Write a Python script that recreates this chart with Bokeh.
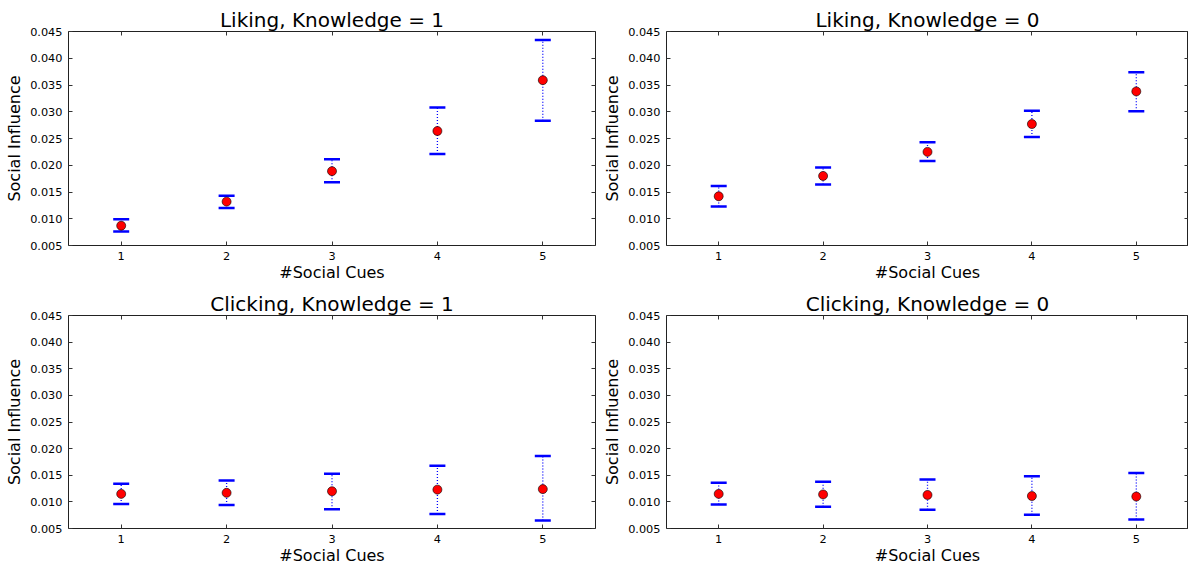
from bokeh.plotting import figure
from bokeh.models import ColumnDataSource, Whisker, TeeHead, FixedTicker, NumeralTickFormatter, LinearAxis, Range1d
from bokeh.layouts import column, row
from bokeh.embed import file_html
from bokeh.resources import INLINE

cues = [1, 2, 3, 4, 5]
y_ticks = [0.005, 0.010, 0.015, 0.020, 0.025, 0.030, 0.035, 0.040, 0.045]

liking_k1_mean = [0.0087, 0.0132, 0.0189, 0.0264, 0.0359]
liking_k1_low = [0.0076, 0.0120, 0.0168, 0.0221, 0.0283]
liking_k1_high = [0.0099, 0.0143, 0.0211, 0.0308, 0.0434]

liking_k0_mean = [0.0142, 0.0180, 0.0225, 0.0277, 0.0338]
liking_k0_low = [0.0123, 0.0164, 0.0208, 0.0253, 0.0301]
liking_k0_high = [0.0161, 0.0196, 0.0243, 0.0302, 0.0374]

clicking_k1_mean = [0.0115, 0.0117, 0.0120, 0.0123, 0.0124]
clicking_k1_low = [0.0096, 0.0094, 0.0086, 0.0077, 0.0065]
clicking_k1_high = [0.0134, 0.0140, 0.0153, 0.0168, 0.0186]

clicking_k0_mean = [0.0115, 0.0114, 0.0113, 0.0111, 0.0110]
clicking_k0_low = [0.0095, 0.0091, 0.0085, 0.0076, 0.0067]
clicking_k0_high = [0.0136, 0.0138, 0.0142, 0.0148, 0.0154]

FONT = "DejaVu Sans"


def style_axis(ax):
    ax.major_tick_in = 4
    ax.major_tick_out = 0
    ax.major_tick_line_color = "#333333"
    ax.minor_tick_line_color = None
    ax.axis_line_color = None
    ax.major_label_text_font = FONT
    ax.major_label_text_font_size = "11.3px"
    ax.major_label_text_color = "black"
    ax.axis_label_text_font = FONT
    ax.axis_label_text_font_size = "16px"
    ax.axis_label_text_font_style = "normal"
    ax.axis_label_text_color = "black"


def panel(title, mean, low, high, width, height, bl, br, bt, bb):
    p = figure(width=width, height=height, output_backend="svg", toolbar_location=None,
               x_range=Range1d(0.5, 5.5), y_range=Range1d(0.005, 0.045),
               min_border_left=bl, min_border_right=br, min_border_top=bt, min_border_bottom=bb)
    p.title.text = title
    p.title.align = "center"
    p.title.text_font = FONT
    p.title.text_font_size = "20px"
    p.title.text_font_style = "normal"
    p.title.text_color = "black"
    p.title.standoff = 0
    p.xgrid.visible = False
    p.ygrid.visible = False
    p.outline_line_color = "#222222"
    p.outline_line_width = 1
    p.background_fill_color = "white"
    p.border_fill_color = "white"

    style_axis(p.xaxis[0])
    style_axis(p.yaxis[0])
    p.xaxis.ticker = FixedTicker(ticks=cues)
    p.yaxis.ticker = FixedTicker(ticks=y_ticks)
    p.yaxis.formatter = NumeralTickFormatter(format="0.000")
    p.xaxis.axis_label = "#Social Cues"
    p.yaxis.axis_label = "Social Influence"
    p.xaxis.major_label_standoff = 6
    p.xaxis.axis_label_standoff = 0
    p.yaxis.major_label_standoff = 6
    p.yaxis.axis_label_standoff = 3

    # tick marks only (no labels) on the top and right edges, as in the reference
    top_ax = LinearAxis(ticker=FixedTicker(ticks=cues))
    right_ax = LinearAxis(ticker=FixedTicker(ticks=y_ticks))
    for ax in (top_ax, right_ax):
        style_axis(ax)
        ax.major_label_text_color = None
        ax.major_label_text_font_size = "1px"
        ax.major_label_standoff = 0
    p.add_layout(top_ax, "above")
    p.add_layout(right_ax, "right")

    src = ColumnDataSource(dict(x=cues, mean=mean, low=low, high=high))
    w = Whisker(base="x", upper="high", lower="low", source=src, dimension="height",
                line_color="#0000ff", line_width=1.3, line_dash="1 2",
                upper_head=TeeHead(size=16, line_color="#0000ff", line_width=2.5),
                lower_head=TeeHead(size=16, line_color="#0000ff", line_width=2.5))
    p.add_layout(w)
    p.scatter("x", "mean", source=src, size=9, fill_color="#ff0000",
              line_color="black", line_width=0.6)
    return p


tl = panel("Liking, Knowledge = 1", liking_k1_mean, liking_k1_low, liking_k1_high,
           600, 285, 68, 5, 31, 40)
tr = panel("Liking, Knowledge = 0", liking_k0_mean, liking_k0_low, liking_k0_high,
           588, 285, 66, 0, 31, 40)
bl = panel("Clicking, Knowledge = 1", clicking_k1_mean, clicking_k1_low, clicking_k1_high,
           600, 282, 68, 5, 30, 39)
br = panel("Clicking, Knowledge = 0", clicking_k0_mean, clicking_k0_low, clicking_k0_high,
           588, 282, 66, 0, 30, 39)

layout = column(row(tl, tr), row(bl, br))
open("out.html", "w").write(file_html(layout, INLINE))
